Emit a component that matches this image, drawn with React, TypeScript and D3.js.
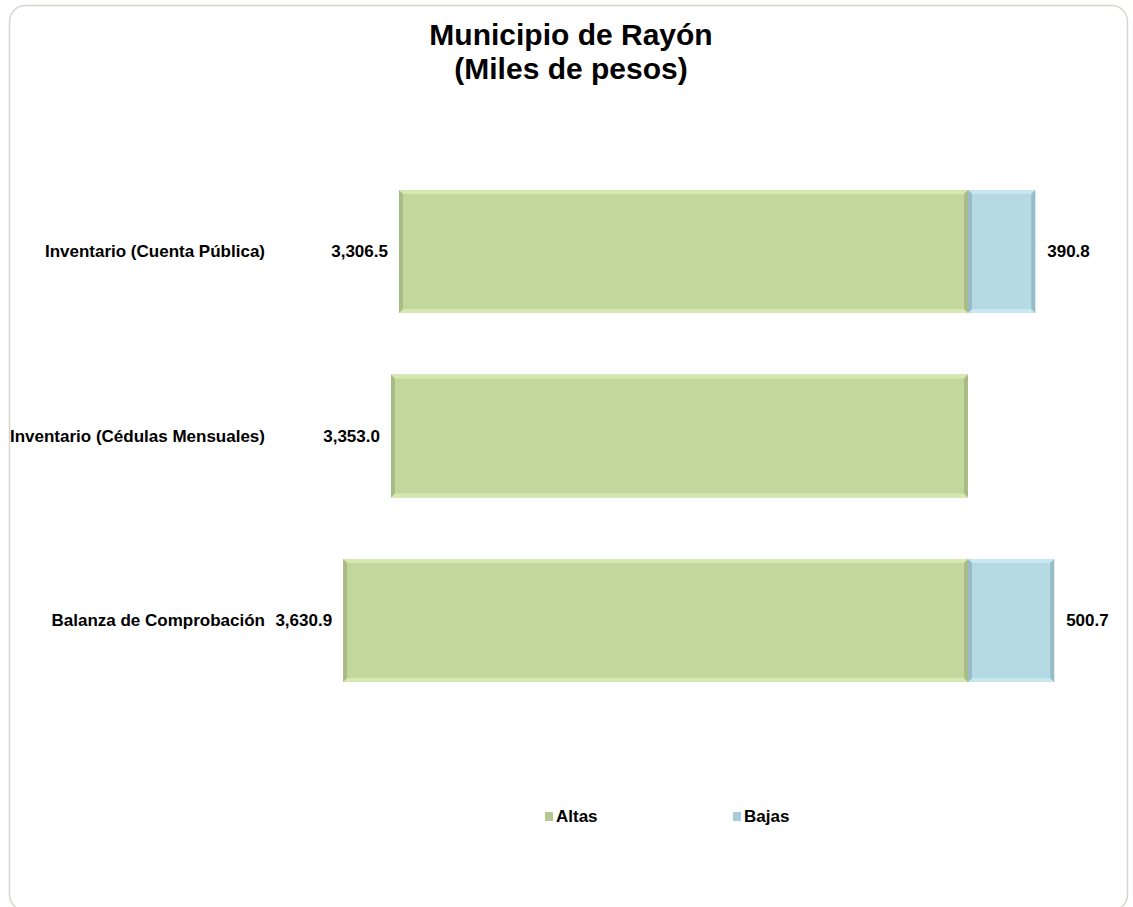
import React from "react";
import * as d3 from "d3";

const categories = [
  "Inventario (Cuenta Pública)",
  "Inventario (Cédulas Mensuales)",
  "Balanza de Comprobación",
];
const altas = [3306.5, 3353.0, 3630.9];
const bajas: (number | null)[] = [390.8, null, 500.7];
const seriesNames = ["Altas", "Bajas"];
const titleLines = ["Municipio de Rayón", "(Miles de pesos)"];

const W = 1133;
const H = 907;
const FONT = "Arial, 'Liberation Sans', Helvetica, sans-serif";

const x = d3.scaleLinear().domain([-4000, 600]).range([968 - 4000 * 0.1721, 968 + 600 * 0.1721]);
const y = d3
  .scaleBand<string>()
  .domain(categories)
  .range([159.25, 712.75])
  .paddingInner(0.333)
  .paddingOuter(0.1667);

const fmt = d3.format(",.1f");

function BevelBar({ x0, x1, y0, h, fill, light, dark }: any) {
  const b = 4;
  const w = x1 - x0;
  const ya = y0, yb = y0 + h;
  return (
    <g>
      <rect x={x0} y={ya} width={w} height={h} fill={fill} />
      <polygon points={`${x0},${ya} ${x1},${ya} ${x1 - b},${ya + b} ${x0 + b},${ya + b}`} fill={light} />
      <polygon points={`${x0},${yb} ${x1},${yb} ${x1 - b},${yb - b} ${x0 + b},${yb - b}`} fill={light} />
      <polygon points={`${x0},${ya} ${x0 + b},${ya + b} ${x0 + b},${yb - b} ${x0},${yb}`} fill={dark} />
      <polygon points={`${x1},${ya} ${x1 - b},${ya + b} ${x1 - b},${yb - b} ${x1},${yb}`} fill={dark} />
    </g>
  );
}

export default function App() {
  const bw = y.bandwidth();
  return (
    <svg
      width={W}
      height={H}
      style={{ position: "absolute", left: 0, top: 0, background: "#fff" }}
      fontFamily={FONT}
    >
      <rect x={9.5} y={5.5} width={1118} height={905} rx={16} fill="#fff" stroke="#d6d6cc" strokeWidth={1.5} />
      <text x={571} y={45} textAnchor="middle" fontSize={30} fontWeight="bold" fill="#000">
        {titleLines[0]}
      </text>
      <text x={571} y={79} textAnchor="middle" fontSize={30} fontWeight="bold" fill="#000">
        {titleLines[1]}
      </text>

      {categories.map((c, i) => {
        const y0 = y(c)!;
        const cy = y0 + bw / 2;
        const a = altas[i];
        const b = bajas[i];
        return (
          <g key={c}>
            <BevelBar x0={x(-a)} x1={x(0)} y0={y0} h={bw} fill="#c3d69b" light="#d6e8b2" dark="#a9bc88" />
            {b != null && (
              <BevelBar x0={x(0)} x1={x(b)} y0={y0} h={bw} fill="#b5dae4" light="#c9e7f0" dark="#98bcc7" />
            )}
            <text x={265} y={cy} dy="0.35em" textAnchor="end" fontSize={17} fontWeight="bold" fill="#000">
              {c}
            </text>
            <text x={x(-a) - 11} y={cy} dy="0.35em" textAnchor="end" fontSize={17} fontWeight="bold" fill="#000">
              {fmt(a)}
            </text>
            {b != null && (
              <text x={x(b) + 12} y={cy} dy="0.35em" textAnchor="start" fontSize={17} fontWeight="bold" fill="#000">
                {fmt(b)}
              </text>
            )}
          </g>
        );
      })}

      <g>
        <rect x={545} y={812} width={8} height={9} fill="#b4c98f" />
        <text x={556} y={822} fontSize={17} fontWeight="bold" fill="#000">{seriesNames[0]}</text>
        <rect x={733} y={812} width={8} height={9} fill="#a8cdd9" />
        <text x={744} y={822} fontSize={17} fontWeight="bold" fill="#000">{seriesNames[1]}</text>
      </g>
    </svg>
  );
}
